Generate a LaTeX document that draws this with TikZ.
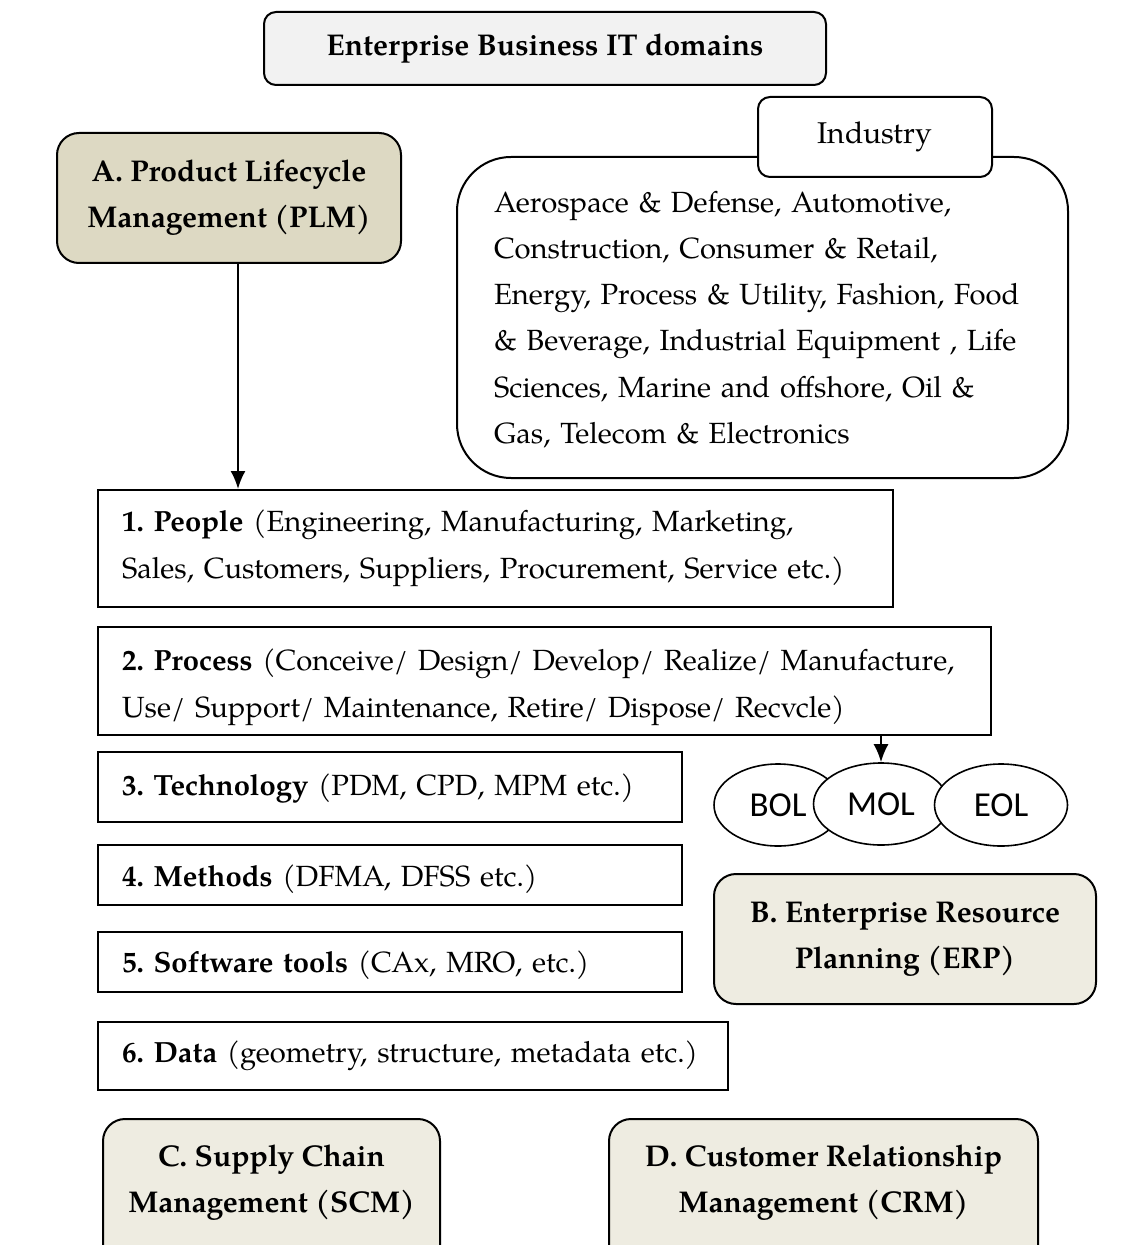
\documentclass[tikz,border=0pt]{standalone}
\usepackage{fontspec}
\setmainfont{TeX Gyre Pagella}
\newfontfamily\ovalfont{Carlito}
\usepackage{tikz}
\usetikzlibrary{shapes.geometric,arrows.meta}
\frenchspacing
\definecolor{plmfill}{HTML}{DDD9C3}
\definecolor{domfill}{HTML}{EEECE1}
\definecolor{titlefill}{HTML}{F2F2F2}
\tikzset{
  dombox/.style={draw, line width=1pt, rounded corners=11pt, fill=domfill, align=center,
    font=\fontsize{15}{23}\selectfont\bfseries},
  item/.style={draw, line width=1pt, align=left, inner xsep=12pt,
    font=\fontsize{14.6}{23.5}\selectfont},
  phase/.style={draw, ellipse, fill=white, line width=0.8pt, inner sep=0pt,
    minimum height=41pt, font=\ovalfont\fontsize{17.5}{19}\selectfont},
  arr/.style={-{Latex[length=9pt,width=7.5pt]}, line width=1pt}
}

\begin{document}
\begin{tikzpicture}[x=0.5pt,y=-0.5pt]
  \useasboundingbox (0,0) rectangle (1138,1245);
  \clip (0,0) rectangle (1138,1245);

  \node[dombox, fill=titlefill, rounded corners=6pt, minimum width=281pt, minimum height=36.5pt] (title) at (545,48.5) {Enterprise Business IT domains};
  \node[dombox, fill=plmfill, minimum width=172pt, minimum height=65pt] (plm) at (229,198) {A. Product Lifecycle\\Management (PLM)};

  % industry box and its tab
  \node[item, rounded corners=27pt, inner xsep=18.5pt, text width=268.5pt, minimum height=160.5pt,
    font=\fontsize{14.6}{23.1}\selectfont, text height=12.5pt] (sectors) at (762.5,317.5)
    {\mbox{Aerospace \& Defense, Automotive,}\\\mbox{Construction, Consumer \& Retail,}\\\mbox{Energy, Process \& Utility, Fashion, Food}\\\mbox{\& Beverage, Industrial Equipment , Life}\\\mbox{Sciences, Marine and offshore, Oil \&}\\\mbox{Gas, Telecom \& Electronics}};
  \node[draw, fill=white, line width=1pt, rounded corners=6pt, minimum width=117pt, minimum height=40pt, font=\fontsize{15}{23}\selectfont] (industry) at (875,137) {Industry};

  % PLM elements
  \node[item, text width=373.5pt, minimum height=58.5pt] (people) at (495.5,548.5) {\mbox{\textbf{1. People} (Engineering, Manufacturing, Marketing,}\\\mbox{Sales, Customers, Suppliers, Procurement, Service etc.)}};
  \node[item, text width=422.5pt, minimum height=54pt, text height=17.5pt] (process) at (544.5,681) {\mbox{\textbf{2. Process} (Conceive/ Design/ Develop/ Realize/ Manufacture,}\\\mbox{Use/ Support/ Maintenance, Retire/ Dispose/ Recvcle)}};
  \node[item, text width=268pt, minimum height=35pt, text height=12.5pt] (technology) at (390,787) {\mbox{\textbf{3. Technology} (PDM, CPD, MPM etc.)}};
  \node[item, text width=268pt, minimum height=30pt, text height=15.5pt] (methods) at (390,875) {\mbox{\textbf{4. Methods} (DFMA, DFSS etc.)}};
  \node[item, text width=268pt, minimum height=30pt, text height=14.5pt] (software) at (390,962) {\mbox{\textbf{5. Software tools} (CAx, MRO, etc.)}};
  \node[item, text width=291pt, minimum height=34pt] (data) at (413,1056) {\mbox{\textbf{6. Data} (geometry, structure, metadata etc.)}};

  % lifecycle phases
  \node[phase, minimum width=64pt] (bol) at (778,805) {BOL};
  \node[phase, minimum width=67.5pt] (mol) at (881,804) {MOL};
  \node[phase, minimum width=66.5pt] (eol) at (1001,805) {EOL};

  \node[dombox, minimum width=191pt, minimum height=65pt] (erp) at (905,939) {B. Enterprise Resource\\Planning (ERP)};
  \node[dombox, minimum width=168.5pt, minimum height=75pt, anchor=north] (scm) at (271.5,1118) {};
  \node[font=\fontsize{15}{23}\selectfont\bfseries, align=center] (scmtext) at (271.5,1183) {C. Supply Chain\\Management (SCM)};
  \node[dombox, minimum width=214.5pt, minimum height=75pt, anchor=north] (crm) at (823.5,1118) {};
  \node[font=\fontsize{15}{23}\selectfont\bfseries, align=center] (crmtext) at (823.5,1183) {D. Customer Relationship\\Management (CRM)};

  \draw[arr] ([xshift=4.5pt]plm.south) -- ([xshift=4.5pt]plm.south |- people.north);
  \draw[arr] (process.south -| mol.north) -- (mol.north);
\end{tikzpicture}
\end{document}
